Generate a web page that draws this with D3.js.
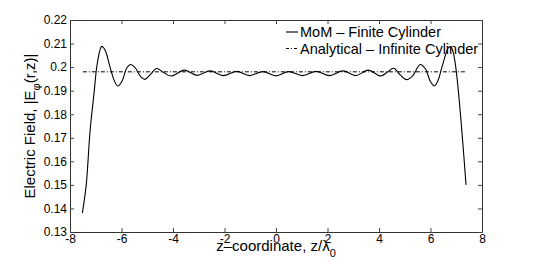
<!DOCTYPE html>
<html>
<head>
<meta charset="utf-8">
<script src="https://cdn.jsdelivr.net/npm/d3@7"></script>
<style>
	body { margin: 0; background: #fff; }
	text { font-family: 'Liberation Sans', Arial, Helvetica, sans-serif; fill: #000; }
</style>
</head>
<body>
<div id="chart"></div>
<script>
// MoM - finite cylinder (z / lambda0, |E_phi|)
var momZ = [-7.52, -7.37, -7.22, -7.06, -6.94, -6.77, -6.64, -6.45, -6.29, -6.15, -5.99, -5.80, -5.64, -5.48, -5.25, -5.09, -4.89, -4.63, -4.38, -4.08, -3.55, -3.07, -2.56, -2.05, -1.52, -1.03, -0.50, 0.00, 0.49, 1.03, 1.56, 2.08, 2.60, 3.10, 3.58, 4.07, 4.32, 4.57, 4.82, 5.07, 5.30, 5.60, 5.80, 6.00, 6.15, 6.30, 6.45, 6.72, 6.82, 6.95, 7.38];
var momE = [0.138, 0.150, 0.173, 0.1896, 0.2016, 0.2088, 0.2073, 0.2002, 0.1945, 0.1920, 0.1938, 0.1995, 0.2011, 0.1999, 0.1959, 0.1948, 0.1967, 0.1994, 0.1978, 0.1962, 0.1987, 0.1965, 0.1984, 0.1964, 0.1982, 0.1964, 0.1981, 0.1963, 0.1981, 0.1964, 0.1982, 0.1964, 0.1984, 0.1964, 0.1987, 0.1962, 0.1978, 0.1995, 0.1967, 0.1947, 0.1962, 0.2011, 0.1993, 0.1938, 0.1920, 0.1945, 0.2002, 0.2085, 0.2081, 0.2023, 0.150];

// analytical - infinite cylinder
var anaZ = [-7.5, 7.38];
var anaE = [0.198, 0.198];

var xTicks = [-8, -6, -4, -2, 0, 2, 4, 6, 8];
var yTicks = [0.13, 0.14, 0.15, 0.16, 0.17, 0.18, 0.19, 0.2, 0.21, 0.22];

var seriesNames = ['MoM \u2013 Finite Cylinder', 'Analytical \u2013 Infinite Cylinder'];

var width = 533, height = 262;
var mLeft = 70, mRight = 482, mTop = 20, mBottom = 232;

var svg = d3.select('#chart').append('svg')
	.attr('width', width)
	.attr('height', height);

var xScale = d3.scaleLinear().domain([-8, 8]).range([mLeft, mRight]);
var yScale = d3.scaleLinear().domain([0.13, 0.22]).range([mBottom, mTop]);

function fmtX(d) { return String(d); }
function fmtY(d) { return String(+d.toFixed(2)); }

// inward ticks on all four sides, labels only bottom / left
var xAxisB = d3.axisBottom(xScale).tickValues(xTicks).tickSizeInner(-4).tickSizeOuter(0).tickPadding(2).tickFormat(fmtX);
var xAxisT = d3.axisTop(xScale).tickValues(xTicks).tickSizeInner(-4).tickSizeOuter(0).tickFormat('');
var yAxisL = d3.axisLeft(yScale).tickValues(yTicks).tickSizeInner(-4).tickSizeOuter(0).tickPadding(3).tickFormat(fmtY);
var yAxisR = d3.axisRight(yScale).tickValues(yTicks).tickSizeInner(-4).tickSizeOuter(0).tickFormat('');

function styleAxis(g) {
	g.select('.domain').attr('stroke', '#333');
	g.selectAll('.tick line').attr('stroke', '#444');
	g.selectAll('.tick text')
		.attr('font-family', "'Liberation Sans', Arial, sans-serif")
		.attr('font-size', 12)
		.attr('fill', '#000');
}

svg.append('g').attr('transform', 'translate(0,' + mBottom + ')').call(xAxisB).call(styleAxis);
svg.append('g').attr('transform', 'translate(0,' + mTop + ')').call(xAxisT).call(styleAxis);
svg.append('g').attr('transform', 'translate(' + mLeft + ',0)').call(yAxisL).call(styleAxis);
svg.append('g').attr('transform', 'translate(' + mRight + ',0)').call(yAxisR).call(styleAxis);

// lines
var momLine = d3.line()
	.x(function(d, i) { return xScale(momZ[i]); })
	.y(function(d) { return yScale(d); })
	.curve(d3.curveCatmullRom.alpha(0.5));

var anaLine = d3.line()
	.x(function(d, i) { return xScale(anaZ[i]); })
	.y(function(d) { return yScale(d); });

svg.append('path')
	.attr('d', anaLine(anaE))
	.attr('fill', 'none')
	.attr('stroke', '#000')
	.attr('stroke-width', 1)
	.attr('stroke-dasharray', '4,2,1,2');

svg.append('path')
	.attr('d', momLine(momE))
	.attr('fill', 'none')
	.attr('stroke', '#000')
	.attr('stroke-width', 1.1);

// legend
var legend = svg.append('g').attr('transform', 'translate(286,32)');

legend.append('line')
	.attr('x1', 0).attr('x2', 12).attr('y1', 0).attr('y2', 0)
	.attr('stroke', '#000').attr('stroke-width', 1.1);
legend.append('line')
	.attr('x1', 0).attr('x2', 13).attr('y1', 16.5).attr('y2', 16.5)
	.attr('stroke', '#000').attr('stroke-width', 1)
	.attr('stroke-dasharray', '3,2,1,2');

legend.selectAll('text.leg')
	.data(seriesNames)
	.enter().append('text')
	.attr('class', 'leg')
	.attr('x', 14)
	.attr('y', function(d, i) { return 5 + i * 16.5; })
	.attr('font-size', 14.5)
	.text(function(d) { return d; });

// axis labels
var xLabel = svg.append('text')
	.attr('x', (mLeft + mRight) / 2)
	.attr('y', 251)
	.attr('text-anchor', 'middle')
	.attr('font-size', 15);
xLabel.append('tspan').text('z\u2013coordinate, z/\u03bb');
xLabel.append('tspan').attr('dy', 6).attr('font-size', 11).text('0');

var yLabel = svg.append('text')
	.attr('transform', 'translate(35,' + ((mTop + mBottom) / 2) + ') rotate(-90)')
	.attr('text-anchor', 'middle')
	.attr('font-size', 15);
yLabel.append('tspan').text('Electric Field, |E');
yLabel.append('tspan').attr('dy', 5).attr('font-size', 11).text('\u03c6');
yLabel.append('tspan').attr('dy', -5).text('(r,z)|');
</script>
</body>
</html>
